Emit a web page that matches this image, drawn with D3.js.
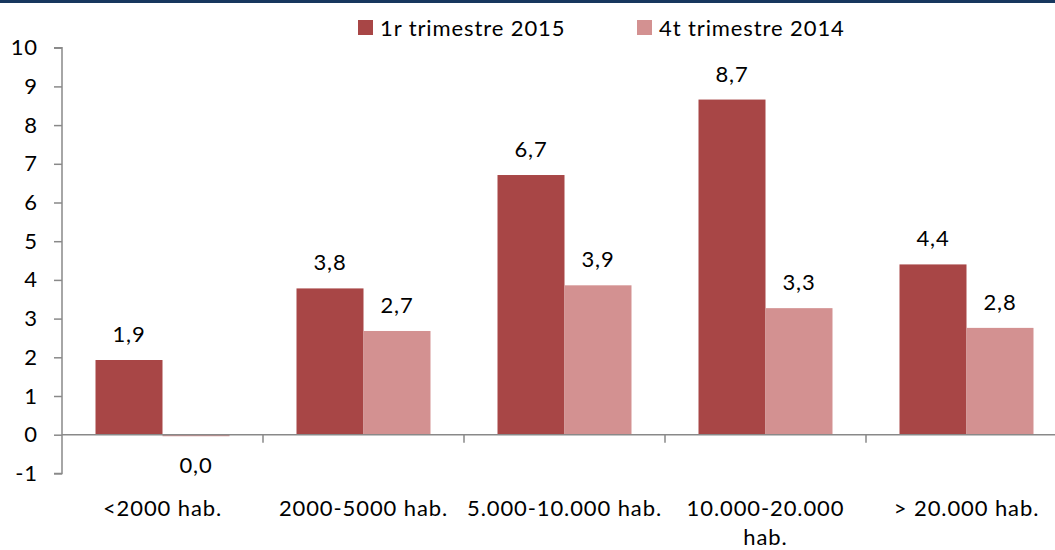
<!DOCTYPE html>
<html><head><meta charset="utf-8">
<script src="https://cdn.jsdelivr.net/npm/d3@7"></script>
<style>
html,body{margin:0;padding:0;background:#fff;}
svg text{font-family:Lato,"Open Sans",sans-serif;fill:#000;letter-spacing:0.9px;}
</style></head>
<body>
<svg id="c" width="1055" height="550"></svg>
<script>
const categories = ["<2000 hab.", "2000-5000 hab.", "5.000-10.000 hab.", "10.000-20.000 hab.", "> 20.000 hab."];
const seriesNames = ["1r trimestre 2015", "4t trimestre 2014"];
const q1_2015 = [1.93, 3.78, 6.71, 8.66, 4.40];
const q4_2014 = [-0.04, 2.68, 3.86, 3.27, 2.76];
const yTicks = [-1, 0, 1, 2, 3, 4, 5, 6, 7, 8, 9, 10];
const colors = ["#a84646", "#d39191"];

const svg = d3.select("#c");
const W = 1055, H = 550;
const FS = "22px";
svg.append("rect").attr("x",0).attr("y",0).attr("width",W).attr("height",3).attr("fill","#17375e");

const left = 62, bandW = 201;
const x0 = d3.scaleBand().domain(categories).range([left, left + bandW*categories.length]).paddingInner(0).paddingOuter(0);
const x1 = d3.scaleBand().domain(seriesNames).range([0, x0.bandwidth()]).paddingInner(0).paddingOuter(0.5);
const y = d3.scaleLinear().domain([-1, 10]).range([473.4, 47.7]);

// y axis
const yAxis = svg.append("g").attr("transform",`translate(${left},0)`)
  .call(d3.axisLeft(y).tickValues(yTicks).tickSize(8).tickPadding(16).tickFormat(d => String(d)));
yAxis.select(".domain").attr("stroke","#898989").attr("stroke-width",1.5).attr("d",`M-8,${y(10)}H0V${y(-1)}H-8`);
yAxis.selectAll(".tick line").attr("stroke","#898989").attr("stroke-width",1.5);
yAxis.selectAll(".tick text").style("font-size",FS).style("font-family","Lato").attr("fill","#000");

// bars
const data = categories.map((c,i)=>({cat:c, vals:[q1_2015[i], q4_2014[i]]}));
const g = svg.append("g");
data.forEach(d=>{
  d.vals.forEach((v,j)=>{
    const xx = x0(d.cat) + x1(seriesNames[j]);
    g.append("rect").attr("x",xx).attr("width",x1.bandwidth())
      .attr("y",Math.min(y(v),y(0))).attr("height",Math.abs(y(v)-y(0)))
      .attr("fill",colors[j]);
  });
});

// x axis (at zero)
const xAxisG = svg.append("g").attr("transform",`translate(0,${y(0)})`);
xAxisG.append("line").attr("x1",left).attr("x2",W).attr("y1",0).attr("y2",0).attr("stroke","#898989").attr("stroke-width",1.5);
categories.forEach((c,i)=>{
  if(i===0) return;
  const tx = x0(c);
  xAxisG.append("line").attr("x1",tx).attr("x2",tx).attr("y1",0).attr("y2",8).attr("stroke","#898989").attr("stroke-width",1.5);
});

// category labels with wrapping
const fmt = v => { let s = Math.abs(v) < 0.05 ? "0.0" : v.toFixed(1); return s.replace(".", ","); };
const maxW = x0.bandwidth() - 3;
categories.forEach(c=>{
  const cx = x0(c) + x0.bandwidth()/2;
  const t = svg.append("text").attr("x",cx).attr("y",516).attr("text-anchor","middle").style("font-size",FS);
  const words = c.split(" ");
  let line = [];
  let tsp = t.append("tspan").attr("x",cx).attr("dy",0);
  words.forEach(w=>{
    line.push(w);
    tsp.text(line.join(" "));
    if (tsp.node().getComputedTextLength() > maxW && line.length > 1) {
      line.pop(); tsp.text(line.join(" "));
      line = [w];
      tsp = t.append("tspan").attr("x",cx).attr("dy",29).text(w);
    }
  });
});

// value labels
data.forEach(d=>{
  d.vals.forEach((v,j)=>{
    const cx = x0(d.cat) + x1(seriesNames[j]) + x1.bandwidth()/2;
    const ty = v >= 0 ? y(v) - 18 : y(v) + 37;
    svg.append("text").attr("x",cx).attr("y",ty).attr("text-anchor","middle").style("font-size",FS).text(fmt(v));
  });
});

// legend
const legX = [358, 637];
seriesNames.forEach((s,j)=>{
  svg.append("rect").attr("x",legX[j]).attr("y",20).attr("width",15).attr("height",15).attr("fill",colors[j]);
  svg.append("text").attr("x",legX[j]+22).attr("y",36).style("font-size",FS).text(s);
});
</script>
</body></html>
